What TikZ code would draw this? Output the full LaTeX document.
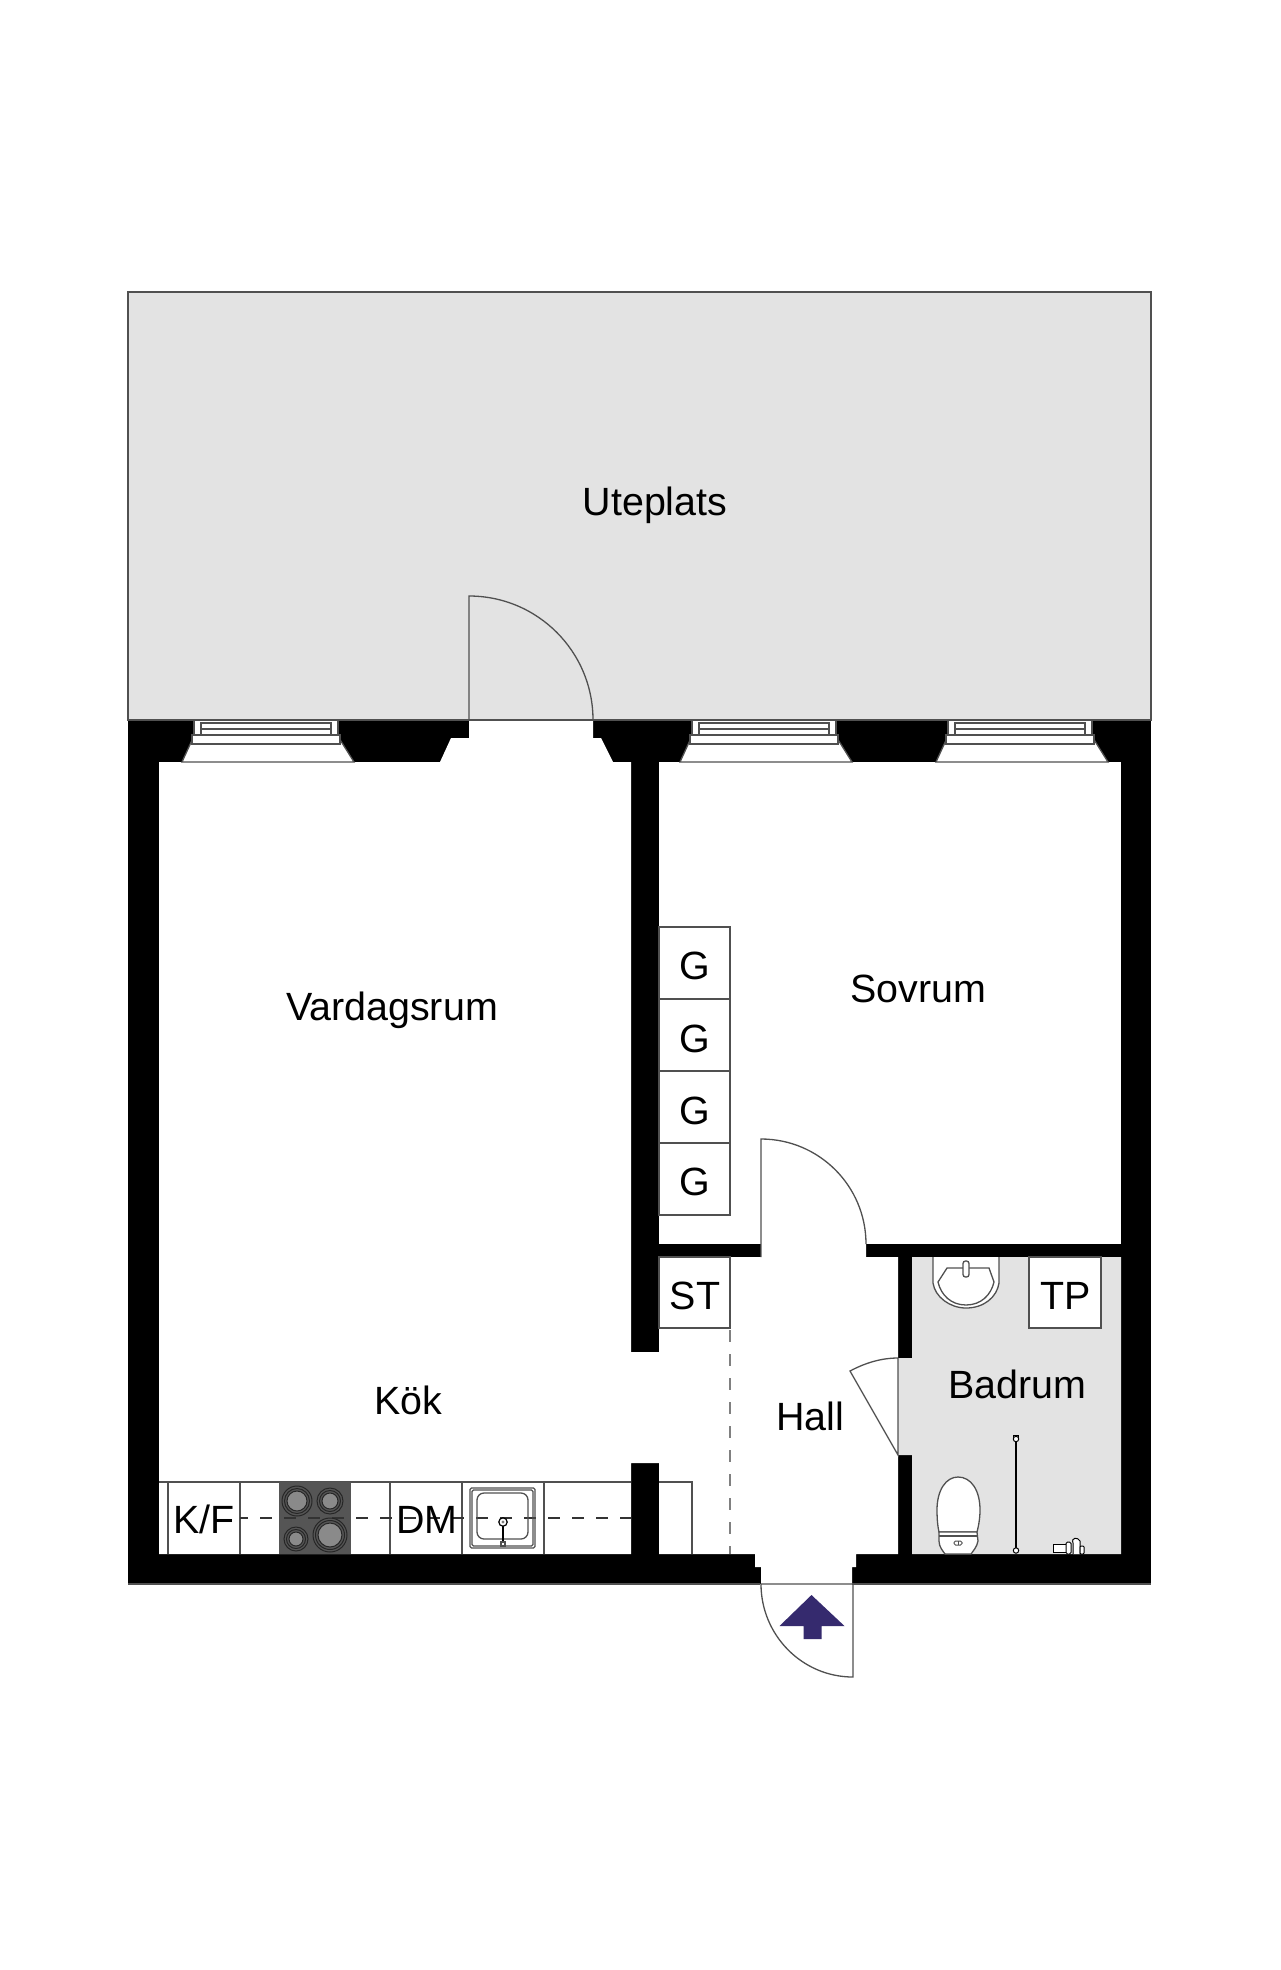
\documentclass[tikz,border=0pt]{standalone}
\usepackage{fontspec}
\setmainfont{Liberation Sans}
\definecolor{floorgray}{HTML}{E3E3E3}
\definecolor{linegray}{HTML}{505050}
\definecolor{stovegray}{HTML}{555555}
\definecolor{ringgray}{HTML}{8A8A8A}
\definecolor{arrowblue}{HTML}{352A6E}
\tikzset{
  x=1pt,y=-1pt,
  thin line/.style={draw=linegray,line width=1.3pt},
  room label/.style={inner sep=0pt,text height=28pt,text depth=0pt,font=\fontsize{39.4}{41}\selectfont,anchor=center,text=black},
  fixture/.style={thin line,fill=white},
  ring/.style={draw=black!85,line width=1pt},
  pane/.style={draw=linegray,line width=1.2pt,fill=white},
}
\newcommand{\windowunit}[1]{%
  \begin{scope}[shift={(#1,0)}]
    \fill[white] (-12,762) -- (-1,738) -- (0,720) -- (144,720) -- (145,738) -- (160,762) -- cycle;
    \draw[thin line] (-1,738) -- (-12,762) -- (160,762) -- (145,738);
    \draw[pane] (-2,735) rectangle (146,744);
    \draw[pane] (0,720) rectangle (144,735);
    \draw[pane] (7,723) rectangle (137,735);
    \draw[thin line] (7,729) -- (137,729);
  \end{scope}}
\begin{document}
\begin{tikzpicture}
\useasboundingbox (0,0) rectangle (1280,1970);
\fill[white] (0,0) rectangle (1280,1970);
% terrace
\draw[thin line,fill=floorgray] (128,292) rectangle (1151,720);
% walls
\fill[black] (128,720) rectangle (1151,1584);
\draw[thin line] (128,1584) -- (760,1584);
\draw[thin line] (852,1584) -- (1151,1584);
% living room, kitchen and hall
\fill[white] (159,762) -- (440,762) -- (451,738) -- (469,738) -- (469,720) -- (593,720) -- (593,738) -- (601,738) -- (613,762) -- (631,762)
  -- (631,1352) -- (659,1352) -- (659,1257) -- (761,1257) -- (761,1240) -- (866,1240) -- (866,1257) -- (898,1257) -- (898,1554)
  -- (856,1554) -- (856,1567) -- (852,1567) -- (852,1584) -- (761,1584) -- (761,1567) -- (755,1567) -- (755,1554)
  -- (659,1554) -- (659,1463) -- (631,1463) -- (631,1554) -- (159,1554) -- cycle;
% bedroom
\fill[white] (659,762) rectangle (1121,1244);
% bathroom
\fill[floorgray] (912,1257) -- (1121,1257) -- (1121,1554) -- (912,1554) -- (912,1455) -- (898,1455) -- (898,1358) -- (912,1358) -- cycle;
% windows
\windowunit{194}
\windowunit{692}
\windowunit{948}
% terrace door
\draw[thin line] (128,720) -- (1151,720);
\draw[thin line] (469,720) -- (469,596) .. controls (537.5,596) and (593,651.5) .. (593,720);
% bedroom door
\draw[thin line] (761,1257) -- (761,1139) .. controls (819,1139) and (866,1186) .. (866,1244);
% bathroom door
\draw[thin line] (898,1358) -- (898,1455) -- (850,1371) .. controls (865,1363) and (881,1358) .. (898,1358);
% entrance door
\draw[thin line] (761,1584) .. controls (761,1635) and (802,1677) .. (853,1677) -- (853,1584) -- cycle;
\fill[arrowblue] (811.5,1595) -- (844.5,1626) -- (821.5,1626) -- (821.5,1639) -- (803.5,1639) -- (803.5,1626) -- (779.5,1626) -- cycle;
% wardrobes
\foreach \yt in {927,999,1071,1143} {
  \draw[thin line] (659,\yt) rectangle (730,\yt+72);
}
\draw[thin line] (659,1257) rectangle (730,1328);
\draw[draw=gray,line width=1.4pt,dash pattern=on 12pt off 12pt] (730,1330) -- (730,1554);
% shower tray cupboard
\draw[fixture] (1029,1257) rectangle (1101,1328);
% kitchen counter
\draw[thin line] (159,1482) -- (631,1482);
\draw[thin line] (659,1482) -- (692,1482) -- (692,1554);
\foreach \xv in {168,240,390,462,544} { \draw[thin line] (\xv,1482) -- (\xv,1554); }
\fill[stovegray] (279,1482) rectangle (351,1554);
\draw[draw=black!80,line width=1.2pt,dash pattern=on 12pt off 12pt,dash phase=4pt] (240,1518) -- (631,1518);
\foreach \cx/\cy/\rr in {297/1501/15,330/1501/13,296/1539/12,330/1535/17} {
  \draw[ring,fill=stovegray] (\cx,\cy) circle[radius=\rr];
  \draw[ring,fill=stovegray] (\cx,\cy) circle[radius=\rr-2.5];
  \draw[ring,fill=ringgray] (\cx,\cy) circle[radius=\rr-5];
}
% sink
\draw[thin line,rounded corners=1.5pt] (470,1488) rectangle (535,1548);
\draw[thin line,rounded corners=1.5pt] (472,1490) rectangle (533,1546);
\draw[thin line,rounded corners=7pt] (477,1493) rectangle (528,1539);
\draw[black,line width=1.8pt] (503,1525) -- (503,1543);
\draw[thin line,fill=white] (501,1542) rectangle (505,1546);
\draw[black,line width=1.2pt,fill=white] (503,1522) circle[radius=4.2];
\fill[gray] (503,1522) circle[radius=1.6];
% basin
\draw[fixture] (933,1257) -- (933,1283) .. controls (935,1297) and (950,1308) .. (966,1308) .. controls (984,1308) and (997,1297) .. (999,1283) -- (999,1257);
\draw[fixture] (938,1282) -- (947,1268) -- (989,1268) -- (994,1282) .. controls (991,1295) and (981,1305) .. (966,1305) .. controls (951,1305) and (941,1295) .. (938,1282) -- cycle;
\draw[fixture,rounded corners=2.5pt] (963,1261) rectangle (969,1277);
% toilet
\begin{scope}[shift={(1,0)}]
\draw[fixture] (936,1510) .. controls (936,1490) and (945,1477) .. (957,1477) .. controls (970,1477) and (979,1490) .. (979,1510) .. controls (979,1520) and (977,1528) .. (976,1532) -- (938,1532) .. controls (937,1528) and (936,1520) .. (936,1510) -- cycle;
\draw[fixture] (938,1532) -- (976,1532) -- (977,1541) .. controls (976,1547) and (972,1551) .. (970,1554) -- (944,1554) .. controls (942,1551) and (938,1547) .. (938,1541) -- cycle;
\draw[thin line] (938,1536) -- (976,1536);
\draw[draw=linegray,line width=1pt,fill=white,rounded corners=1.5pt] (953,1541) rectangle (961,1545);
\draw[draw=linegray,line width=0.8pt] (957,1541) -- (957,1545);
\end{scope}
% shower rod
\draw[black,line width=1.8pt] (1016,1439) -- (1016,1550);
\draw[black,line width=1pt,fill=floorgray] (1013.5,1435) rectangle (1018.5,1438);
\draw[black,line width=1pt,fill=white] (1016,1439) circle[radius=2.7];
\draw[black,line width=1pt,fill=white] (1016,1550.5) circle[radius=2.7];
% tap
\draw[black,line width=1pt,fill=white] (1053,1544) rectangle (1066,1552);
\draw[black,line width=1pt,fill=white,rounded corners=1.5pt] (1066,1542) rectangle (1071,1554);
\draw[black,line width=1pt,fill=white] (1073,1554) -- (1073,1543) .. controls (1071,1537) and (1078,1537) .. (1080,1541) -- (1080,1554);
\draw[black,line width=1pt,fill=white,rounded corners=1pt] (1080,1546) rectangle (1084,1554);
% labels
\node[room label] (uteplats) at (655,501) {Uteplats};
\node[room label] (vardagsrum) at (392,1006) {Vardagsrum};
\node[room label] (sovrum) at (918,988) {Sovrum};
\node[room label] (kok) at (408,1400) {Kök};
\node[room label] (hall) at (810,1416) {Hall};
\node[room label] (badrum) at (1017,1384) {Badrum};
\node[room label] (g1) at (695,965) {G};
\node[room label] (g2) at (695,1038) {G};
\node[room label] (g3) at (695,1110) {G};
\node[room label] (g4) at (695,1181) {G};
\node[room label] (st) at (695,1295) {ST};
\node[room label] (tp) at (1066,1295) {TP};
\node[room label] (kf) at (204,1519) {K/F};
\node[room label] (dm) at (427,1519) {DM};
\end{tikzpicture}
\end{document}
